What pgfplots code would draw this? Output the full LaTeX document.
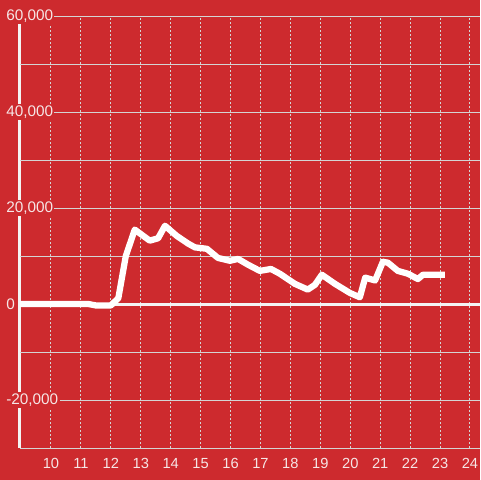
\documentclass[border=0pt]{standalone}
\usepackage{fontspec}
\setmainfont{Liberation Sans}
\usepackage{pgfplots}
\pgfplotsset{compat=1.18}
\definecolor{bgred}{RGB}{205,42,46}
\definecolor{gridgray}{RGB}{212,212,212}
\definecolor{labelc}{RGB}{246,230,230}
\definecolor{axisw}{RGB}{244,244,244}
\begin{document}
\begin{tikzpicture}
\fill[bgred] (-15pt,-24pt) rectangle (345pt,336pt);
\draw[axisw, line width=2.25pt] (0pt,0pt) -- (0pt,324pt);
\begin{axis}[
 at={(0,0)}, anchor=south west,
 scale only axis, width=345pt, height=324pt,
 xmin=8.965, xmax=24.335, ymin=-30000, ymax=60000,
 axis line style={draw=none},
 xtick={10,...,24}, ytick={-20000,0,20000,40000,60000},
 minor ytick={-30000,-10000,10000,30000,50000},
 major tick length=0pt, minor tick length=0pt,
 xmajorgrids, ymajorgrids, yminorgrids,
 x grid style={gridgray, line width=0.75pt, dash pattern=on 1.5pt off 1.5pt},
 y grid style={gridgray, line width=0.75pt},
 minor y grid style={gridgray, line width=0.75pt},
 tick label style={font=\fontsize{11}{13}\selectfont, text=labelc},
 /pgf/number format/assume math mode=true,
 /pgf/number format/1000 sep={,},
 scaled y ticks=false,
 yticklabel style={anchor=west, fill=bgred, inner sep=1pt, xshift=-11.5pt, font=\fontsize{11.5}{13}\selectfont},
 xticklabel style={yshift=-4pt},
 clip=false,
]
\draw[axisw, line width=2.25pt] (axis cs:8.9,0) -- (axis cs:24.335,0);
\addplot[white, line width=4.7pt, line join=round, line cap=butt] coordinates {
(8.965,0) (11.25,0) (11.5,-300) (12.0,-300) (12.25,1200) (12.5,10000)
(12.8,15500) (13.3,13200) (13.58,13700) (13.81,16300) (14.2,14200)
(14.58,12600) (14.81,11800) (15.21,11500) (15.58,9600) (15.98,9000)
(16.25,9400) (16.58,8200) (16.98,6900) (17.35,7300) (17.65,6300)
(18.15,4200) (18.58,3000) (18.82,4000) (19.05,6100) (19.49,4200)
(19.99,2300) (20.32,1400) (20.5,5500) (20.83,4900) (21.09,8800)
(21.26,8600) (21.59,6900) (21.93,6300) (22.26,5200) (22.43,6100)
(23.16,6100)
};
\end{axis}
\pgfresetboundingbox
\path[use as bounding box] (-15pt,-24pt) rectangle (345pt,336pt);
\end{tikzpicture}
\end{document}
